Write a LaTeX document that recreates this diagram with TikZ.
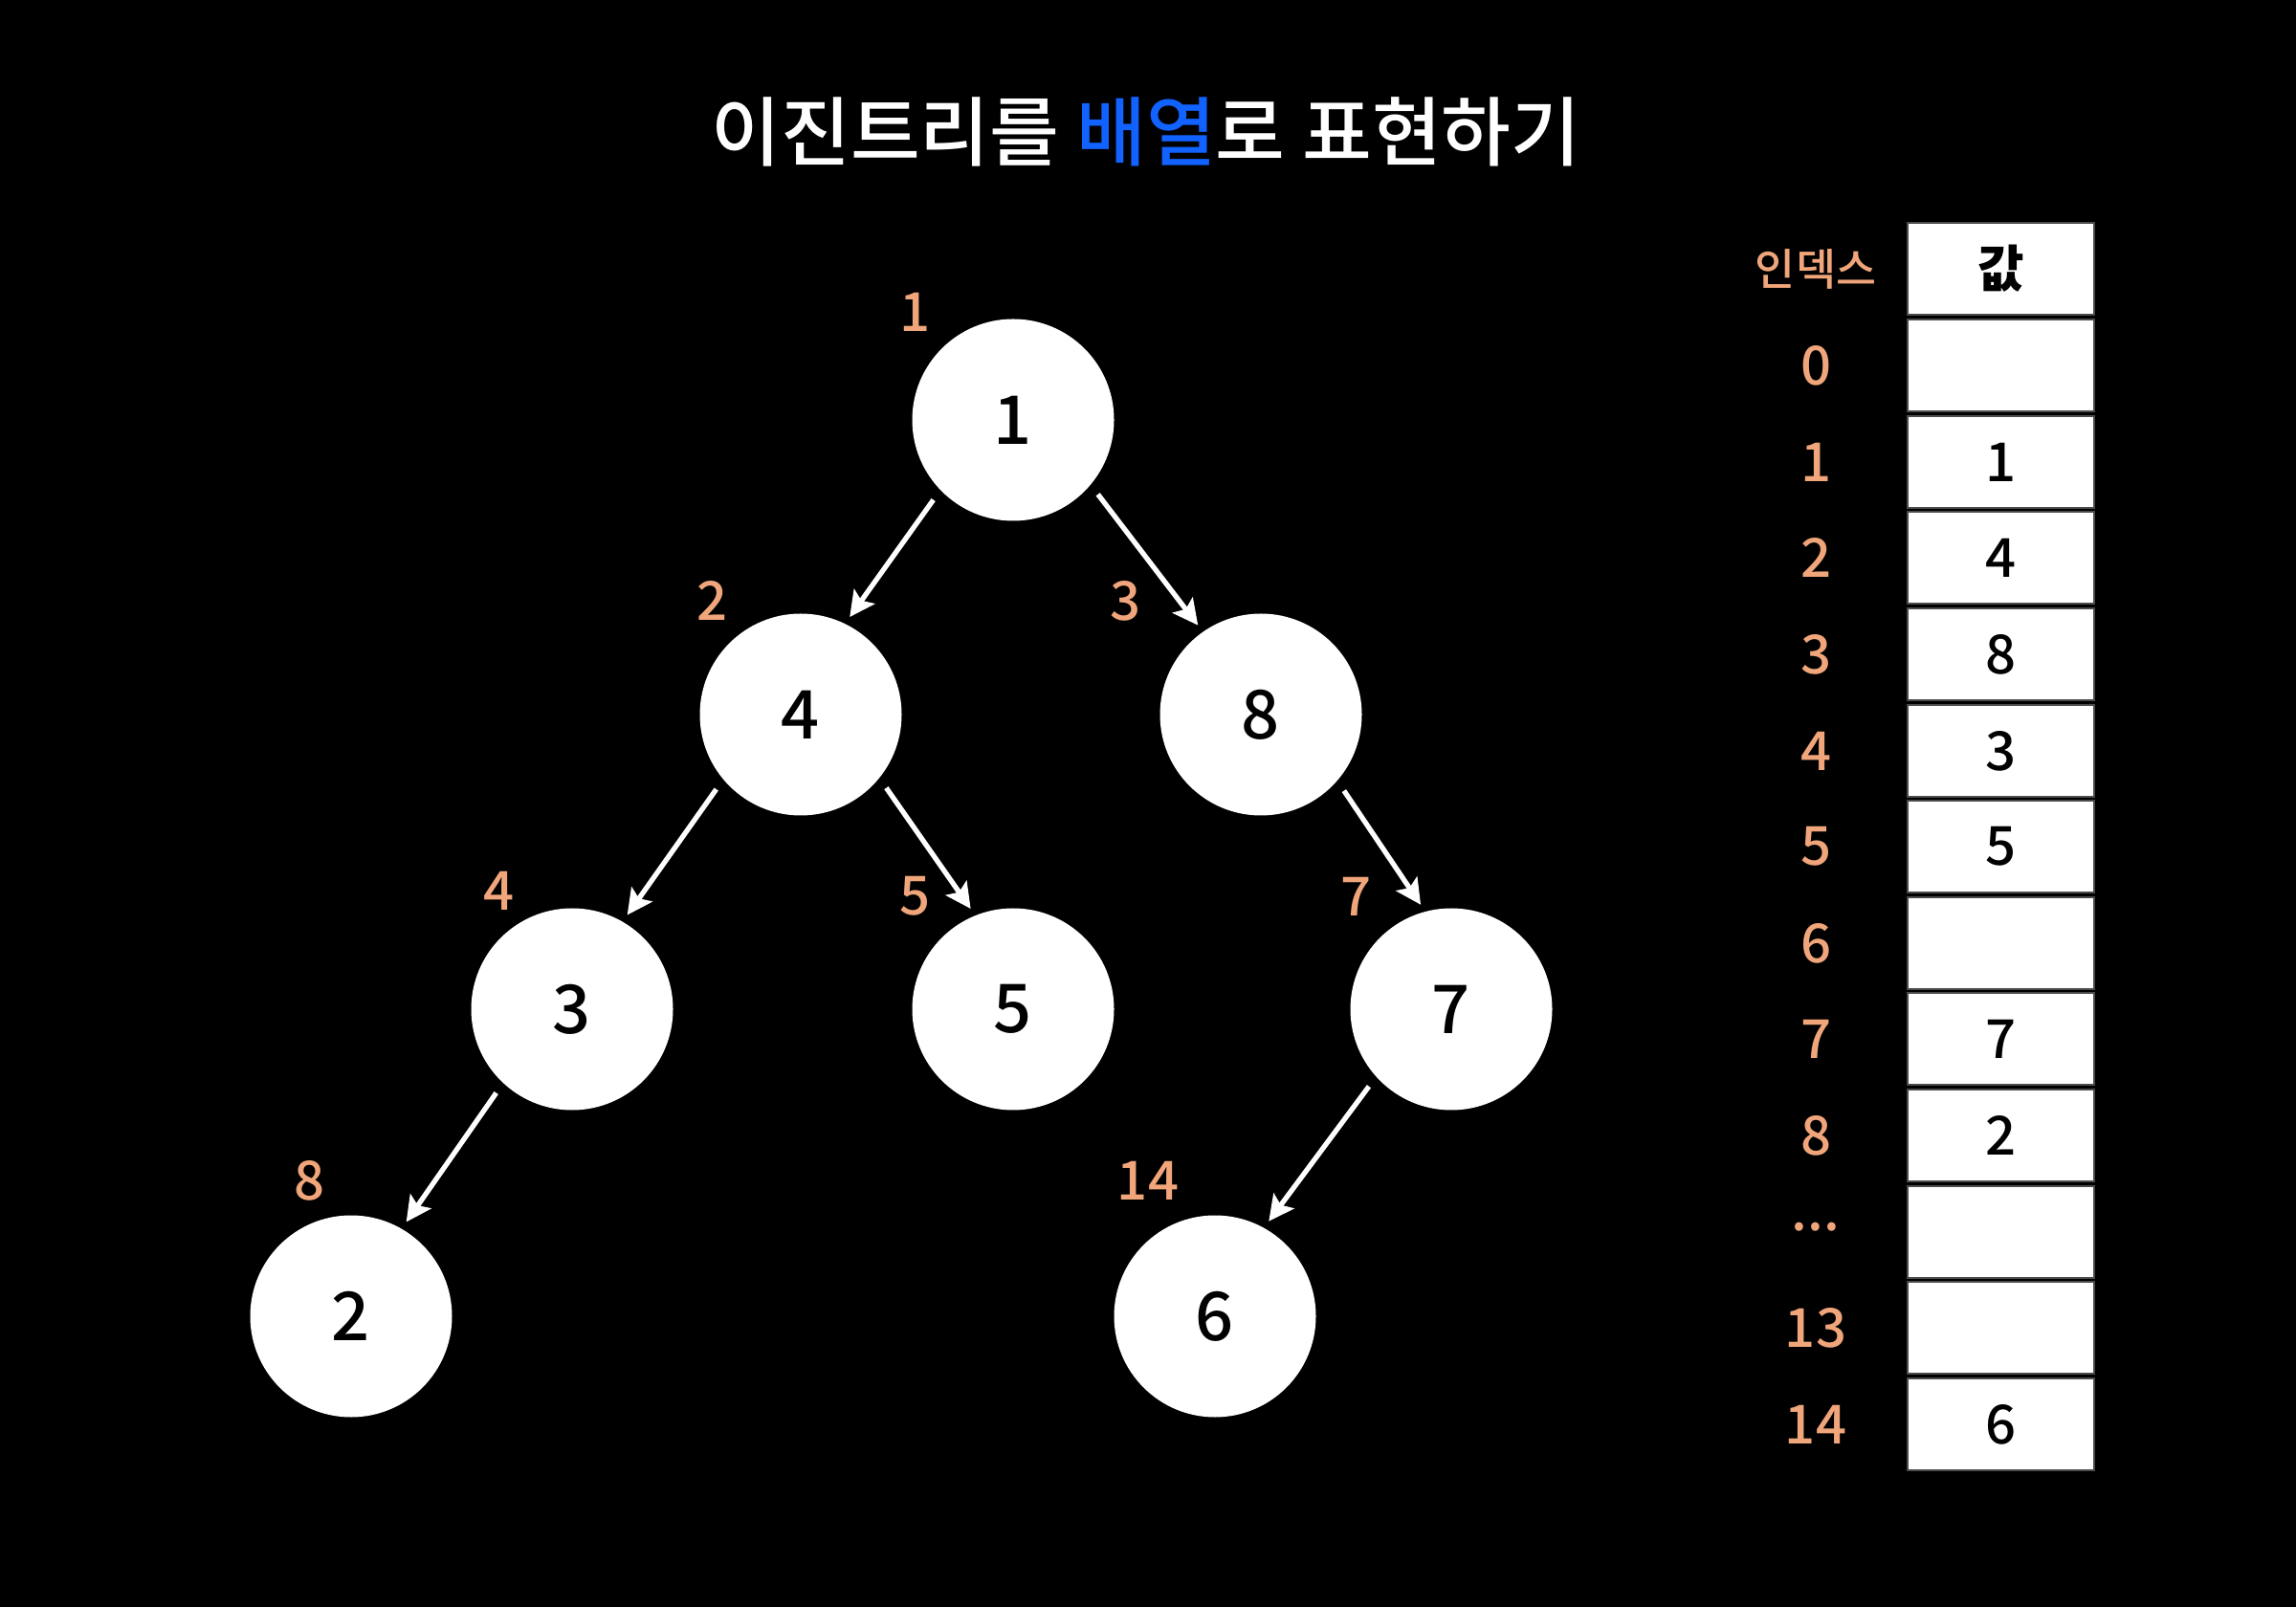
\documentclass[tikz,border=0pt]{standalone}
\usepackage{fontspec}
\setmainfont{Noto Sans CJK KR}
\newfontfamily\medfont{Noto Sans CJK KR Medium}
\usepackage{tikz}
\usetikzlibrary{arrows.meta}
\definecolor{idxorange}{RGB}{240,166,122}
\definecolor{titleblue}{RGB}{18,98,255}

\begin{document}
\begin{tikzpicture}[
  treenode/.style={circle, fill=white, minimum size=2.11cm, inner sep=0pt, font=\fontsize{20}{24}\selectfont\medfont},
  idxlabel/.style={text=idxorange, font=\fontsize{16}{19}\selectfont\medfont},
  cell/.style={rectangle, fill=white, draw=gray!60!black, line width=0.6pt, minimum width=1.95cm, minimum height=0.96cm, inner sep=0pt, font=\fontsize{16}{19}\selectfont\medfont},
  edge/.style={draw=white, line width=1.5pt, -{Stealth[length=7.5pt, width=7.5pt, inset=1.5pt]}, shorten <=0.12cm, shorten >=0.08cm}
]
% Background
\fill[black] (0,0) rectangle (24,16.8);

% Title
\node[text=white, font=\fontsize{22.5}{26}\selectfont\medfont] (title) at (11.98,15.42) {이진트리를 \textcolor{titleblue}{배열}로 표현하기};

% Tree nodes
\node[treenode] (i1) at (10.59,12.41) {1};
\node[treenode] (i2) at (8.37,9.33) {4};
\node[treenode] (i3) at (13.18,9.33) {8};
\node[treenode] (i4) at (5.98,6.25) {3};
\node[treenode] (i5) at (10.59,6.25) {5};
\node[treenode] (i7) at (15.17,6.25) {7};
\node[treenode] (i8) at (3.67,3.04) {2};
\node[treenode] (i14) at (12.70,3.04) {6};

% Index labels
\node[idxlabel] (l1) at (9.57,13.54) {1};
\node[idxlabel] (l2) at (7.45,10.52) {2};
\node[idxlabel] (l3) at (11.77,10.52) {3};
\node[idxlabel] (l4) at (5.22,7.49) {4};
\node[idxlabel] (l5) at (9.57,7.43) {5};
\node[idxlabel] (l7) at (14.17,7.43) {7};
\node[idxlabel] (l8) at (3.24,4.46) {8};
\node[idxlabel] (l14) at (12.00,4.46) {14};

% Edges
\draw[edge] (i1.224) -- (i2.64);
\draw[edge] (i1.320) -- (i3.125);
\draw[edge] (i2.220) -- (i4.60);
\draw[edge] (i2.321) -- (i5.112);
\draw[edge] (i3.319) -- (i7.105);
\draw[edge] (i4.227) -- (i8.60);
\draw[edge] (i7.222) -- (i14.61);

% Array table
\node[idxlabel, font=\fontsize{13}{16}\selectfont\medfont] (hidx) at (18.98,13.99) {인덱스};
\node[cell, font=\fontsize{15}{18}\selectfont\bfseries] (hval) at (20.915,13.99) {값};

\node[idxlabel] (a0) at (18.98,12.98) {0};
\node[cell] (v0) at (20.915,12.98) {};
\node[idxlabel] (a1) at (18.98,11.97) {1};
\node[cell] (v1) at (20.915,11.97) {1};
\node[idxlabel] (a2) at (18.98,10.97) {2};
\node[cell] (v2) at (20.915,10.97) {4};
\node[idxlabel] (a3) at (18.98,9.96) {3};
\node[cell] (v3) at (20.915,9.96) {8};
\node[idxlabel] (a4) at (18.98,8.95) {4};
\node[cell] (v4) at (20.915,8.95) {3};
\node[idxlabel] (a5) at (18.98,7.95) {5};
\node[cell] (v5) at (20.915,7.95) {5};
\node[idxlabel] (a6) at (18.98,6.94) {6};
\node[cell] (v6) at (20.915,6.94) {};
\node[idxlabel] (a7) at (18.98,5.94) {7};
\node[cell] (v7) at (20.915,5.94) {7};
\node[idxlabel] (a8) at (18.98,4.93) {8};
\node[cell] (v8) at (20.915,4.93) {2};
\node[idxlabel] (adots) at (18.98,3.97) {...};
\node[cell] (vdots) at (20.915,3.92) {};
\node[idxlabel] (a13) at (18.98,2.92) {13};
\node[cell] (v13) at (20.915,2.92) {};
\node[idxlabel] (a14) at (18.98,1.91) {14};
\node[cell] (v14) at (20.915,1.91) {6};

\end{tikzpicture}
\end{document}
